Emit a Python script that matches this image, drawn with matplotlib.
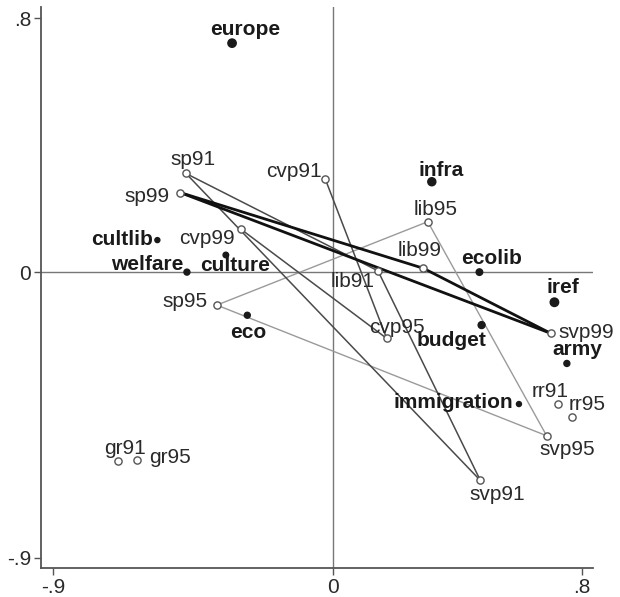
import matplotlib
matplotlib.use("Agg")
import matplotlib.pyplot as plt

plt.rcParams["font.family"] = ["Liberation Sans", "DejaVu Sans"]

# issue dimensions (filled dots)
issues = ["europe", "infra", "ecolib", "iref", "budget", "army",
          "immigration", "eco", "cultlib", "welfare", "culture"]
issue_x = [-0.324, 0.318, 0.471, 0.712, 0.478, 0.752, 0.598, -0.275, -0.564, -0.469, -0.344]
issue_y = [0.722, 0.285, 0.000, -0.095, -0.167, -0.288, -0.416, -0.136, 0.101, 0.000, 0.054]
issue_w = [6.0, 5.8, 4.7, 6.1, 5.0, 4.3, 3.6, 4.3, 3.6, 4.3, 4.0]   # dot diameter (pt)

# party positions per election (open circles)
parties = ["sp91", "sp95", "sp99", "cvp91", "cvp95", "cvp99", "lib91", "lib95",
           "lib99", "svp91", "svp95", "svp99", "rr91", "rr95", "gr91", "gr95"]
party_x = [-0.472, -0.373, -0.491, -0.025, 0.173, -0.295, 0.145, 0.305,
           0.291, 0.474, 0.687, 0.700, 0.723, 0.770, -0.692, -0.630]
party_y = [0.311, -0.104, 0.251, 0.295, -0.209, 0.135, 0.004, 0.159,
           0.012, -0.657, -0.516, -0.193, -0.416, -0.456, -0.596, -0.593]

links_91 = [("sp91", "lib91"), ("lib91", "svp91"), ("sp91", "svp91")]
links_cvp = [("cvp91", "cvp95"), ("cvp95", "cvp99")]
links_95 = [("sp95", "lib95"), ("lib95", "svp95"), ("sp95", "svp95")]
links_99 = [("sp99", "lib99"), ("lib99", "svp99"), ("sp99", "svp99")]

# label placement: (dx px, dy px to baseline, ha)
issue_lab = {
    "europe": (13, 8, "center"), "infra": (9, 6, "center"),
    "ecolib": (12, 8, "center"), "iref": (8, 9, "center"),
    "budget": (-30, -21, "center"), "army": (10, 8, "center"),
    "immigration": (-6, -4, "right"), "eco": (1, -23, "center"),
    "cultlib": (-4, -5, "right"), "welfare": (-3, 2, "right"),
    "culture": (9, -16, "center"),
}
party_lab = {
    "sp91": (7, 8, "center"), "sp95": (-9, -2, "right"),
    "sp99": (-11, -9, "right"), "cvp91": (-3, 2, "right"),
    "cvp95": (10, 5, "center"), "cvp99": (-6, -15, "right"),
    "lib91": (-3, -16, "right"), "lib95": (8, 7, "center"),
    "lib99": (-4, 12, "center"), "svp91": (17, -20, "center"),
    "svp95": (21, -19, "center"), "svp99": (8, -5, "left"),
    "rr91": (-8, 7, "center"), "rr95": (15, 7, "center"),
    "gr91": (7, 7, "center"), "gr95": (12, -3, "left"),
}

pos = dict(zip(parties, zip(party_x, party_y)))

fig = plt.figure(figsize=(6.2, 5.97), dpi=100)
ax = fig.add_axes([41 / 620, 1 - 568 / 597, 552 / 620, 561 / 597])
ax.set_xlim(-0.938, 0.836)
ax.set_ylim(-0.933, 0.836)

ax.axhline(0, color="#777777", lw=1.0, zorder=1)
ax.axvline(0, color="#777777", lw=1.0, zorder=1)


def draw_links(links, color, lw):
    for a, b in links:
        ax.plot([pos[a][0], pos[b][0]], [pos[a][1], pos[b][1]],
                color=color, lw=lw, zorder=2, solid_capstyle="round")


draw_links(links_95, "#9a9a9a", 1.0)
draw_links(links_91, "#4a4a4a", 1.1)
draw_links(links_cvp, "#4a4a4a", 1.1)
draw_links(links_99, "#111111", 2.0)

ax.scatter(party_x, party_y, s=5.2 ** 2, facecolor="white", edgecolor="#555555",
           linewidth=1.0, zorder=4)
ax.scatter(issue_x, issue_y, s=[w ** 2 for w in issue_w], color="#1a1a1a", zorder=4)

for name, x, y in zip(issues, issue_x, issue_y):
    dx, dy, ha = issue_lab[name]
    ax.annotate(name, (x, y), xytext=(dx, dy), textcoords="offset pixels",
                ha=ha, va="baseline", fontsize=15, fontweight="bold",
                color="#1a1a1a", zorder=5)

for name, x, y in zip(parties, party_x, party_y):
    dx, dy, ha = party_lab[name]
    ax.annotate(name, (x, y), xytext=(dx, dy), textcoords="offset pixels",
                ha=ha, va="baseline", fontsize=15, color="#2a2a2a", zorder=5)

for side in ["top", "right"]:
    ax.spines[side].set_visible(False)
for side in ["left", "bottom"]:
    ax.spines[side].set_color("#555555")
    ax.spines[side].set_linewidth(1.3)

ax.set_xticks([-0.9, 0, 0.8])
ax.set_xticklabels(["-.9", "0", ".8"])
ax.set_yticks([-0.9, 0, 0.8])
ax.set_yticklabels(["-.9", "0", ".8"])
ax.tick_params(axis="both", length=5, width=1.0, color="#555555",
               labelsize=15, labelcolor="#2a2a2a", pad=2)

fig.savefig("out.png", dpi=100)
